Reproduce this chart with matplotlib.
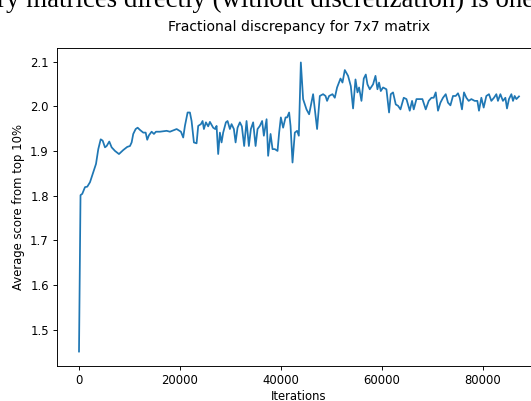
import matplotlib; matplotlib.use('Agg')
import matplotlib.pyplot as plt

# ─── Data ──────────────────────────────────────────────────
iterations = [
    0, 300, 650, 1190, 1640, 2180, 2830, 3370, 3820, 4300, 4690, 5150, 5480, 6000,
    6470, 7130, 7920, 8770, 9560, 10100, 10430, 10750, 11230, 11620, 12080, 12730,
    13210, 13520, 13860, 14390, 14850, 15250, 16040, 17370, 18020, 19350, 20200,
    20650, 20990, 21520, 21980, 22310, 22770, 23300, 23620, 24160, 24490, 24750,
    25150, 25600, 25940, 26590, 26990, 27260, 27580, 27920, 28250, 28570, 29110,
    29440, 29900, 30230, 30690, 31030, 31420, 31880, 32270, 32730, 33200, 33660,
    34060, 34510, 34990, 35380, 35840, 36290, 36630, 37170, 37480, 37960, 38350,
    38810, 39340, 39660, 40000, 40450, 40930, 41240, 41640, 41920, 42310, 42770,
    43220, 43560, 43960, 44410, 45080, 45600, 46390, 46730, 47180, 47720, 48370,
    48850, 49160, 49560, 50230, 50690, 51140, 51820, 52210, 52670, 53320, 53860,
    54310, 54790, 55180, 55500, 55970, 56430, 56830, 57160, 57620, 58270, 58750,
    59140, 59460, 59800, 60250, 60920, 61440, 61780, 62230, 62770, 63220, 63700,
    64350, 64890, 65540, 66000, 66330, 66870, 67520, 68050, 68710, 69300, 69840,
    70290, 70690, 71140, 71620, 72130, 72670, 73120, 73600, 74110, 74650, 75100,
    75440, 75890, 76290, 76760, 77220, 77750, 78410, 78940, 79260, 79730, 80190,
    80720, 81240, 81710, 82230, 82700, 83020, 83500, 84010, 84490, 84810, 85200,
    85680, 86000, 86330, 86670, 87190,
]
scores = [
    1.451, 1.801, 1.804, 1.819, 1.820, 1.830, 1.852, 1.871, 1.904, 1.926, 1.923,
    1.908, 1.911, 1.921, 1.908, 1.900, 1.893, 1.902, 1.909, 1.911, 1.919, 1.938,
    1.949, 1.952, 1.947, 1.941, 1.941, 1.925, 1.935, 1.943, 1.938, 1.943, 1.943,
    1.945, 1.943, 1.949, 1.943, 1.930, 1.956, 1.986, 1.986, 1.967, 1.919, 1.917,
    1.956, 1.960, 1.967, 1.949, 1.964, 1.955, 1.965, 1.952, 1.949, 1.956, 1.893,
    1.941, 1.919, 1.941, 1.964, 1.967, 1.949, 1.960, 1.949, 1.919, 1.952, 1.964,
    1.955, 1.911, 1.967, 1.911, 1.949, 1.964, 1.911, 1.949, 1.956, 1.967, 1.934,
    1.971, 1.889, 1.938, 1.904, 1.904, 1.900, 1.941, 1.975, 1.952, 1.975, 1.975,
    1.986, 1.956, 1.874, 1.941, 1.945, 1.934, 2.098, 2.016, 1.993, 1.982, 2.027,
    1.993, 1.949, 2.023, 2.027, 2.023, 2.012, 2.023, 2.027, 2.019, 2.042, 2.062,
    2.053, 2.081, 2.068, 2.045, 1.995, 2.060, 2.031, 2.042, 2.012, 2.062, 2.071,
    2.049, 2.038, 2.049, 2.068, 2.038, 2.053, 2.034, 2.042, 2.038, 1.986, 2.027,
    2.031, 2.004, 2.001, 1.993, 2.019, 2.016, 1.990, 2.012, 1.993, 2.016, 2.016,
    2.016, 1.993, 2.012, 2.019, 2.019, 2.031, 1.990, 2.008, 2.019, 2.027, 2.008,
    2.002, 2.023, 2.023, 2.029, 2.019, 1.993, 2.031, 2.019, 2.012, 2.016, 2.012,
    2.012, 1.990, 2.019, 1.997, 2.023, 2.027, 2.012, 2.019, 2.027, 2.012, 2.027,
    2.012, 2.019, 1.995, 2.016, 2.027, 2.012, 2.023, 2.016, 2.022,
]

TITLE = "Fractional discrepancy for 7x7 matrix"
PAPER_LINE = "ry matrices directly (without discretization) is one"

# ─── Figure (cropped screenshot: right spine falls off the edge) ─
DPI = 84
W, H = 531, 401
fig = plt.figure(figsize=(W / DPI, H / DPI), dpi=DPI)
ax = fig.add_axes([57 / W, 1 - 366 / H, (541 - 57) / W, (366 - 48) / H])

ax.plot(iterations, scores, color='#1f77b4', lw=1.5)
ax.set_title(TITLE, pad=15)
ax.set_xlabel("Iterations", labelpad=2)
ax.set_ylabel("Average score from top 10%")
ax.set_xticks([0, 20000, 40000, 60000, 80000])
ax.set_yticks([1.5, 1.6, 1.7, 1.8, 1.9, 2.0, 2.1])

# bit of surrounding paper text, cut at the top
fig.text(-3 / W, 1 - 7 / H, PAPER_LINE, family='Liberation Serif',
         fontsize=23, ha='left', va='baseline')

fig.savefig('out.png', dpi=DPI)
